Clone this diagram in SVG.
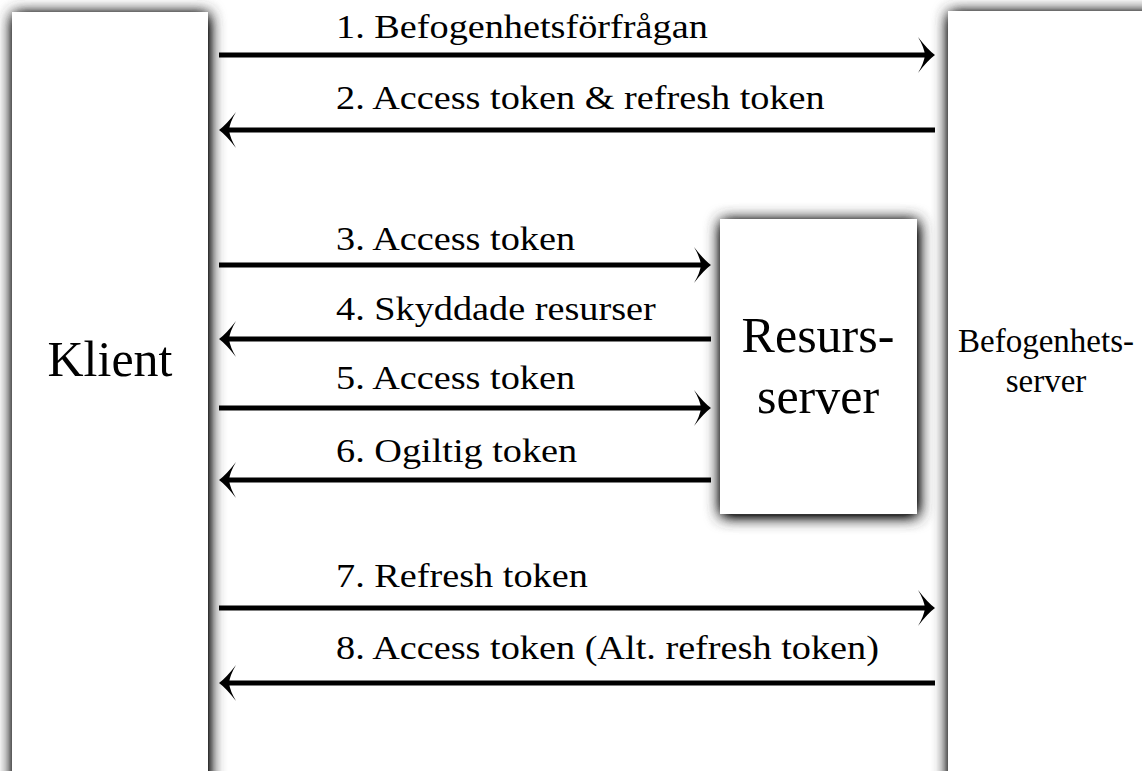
<svg xmlns="http://www.w3.org/2000/svg" xmlns:xlink="http://www.w3.org/1999/xlink" width="1142" height="771" viewBox="0 0 1142 771">
<style>
.box{fill:#fff;filter:url(#sh)}
text{font-family:'Liberation Serif','DejaVu Serif',serif;fill:#000}
.lbl{font-size:33px}
.big{font-size:50px;text-anchor:middle}
.mid{font-size:33px;text-anchor:middle}
.ln{stroke:#000;stroke-width:5;fill:none}
</style>
<defs>
<filter id="sh" x="-30%" y="-30%" width="160%" height="160%">
<feGaussianBlur in="SourceAlpha" stdDeviation="8" result="b"/>
<feOffset in="b" dx="1" dy="2" result="o"/>
<feComponentTransfer in="o" result="c"><feFuncA type="linear" slope="1.9"/></feComponentTransfer>
<feFlood flood-color="#333"/>
<feComposite in2="c" operator="in" result="s"/>
<feMerge><feMergeNode in="s"/><feMergeNode in="SourceGraphic"/></feMerge>
</filter>
<path id="head" d="M0,0 Q-7,-5 -17,-18 Q-11,-8 -10,0 Q-11,8 -17,18 Q-7,5 0,0 Z" fill="#000"/>
</defs>
<rect width="1142" height="771" fill="#fff"/>
<g id="klient">
<rect class="box" x="12" y="12" width="196" height="790"/>
<text class="big" x="110" y="376">Klient</text>
</g>
<g id="befogenhetsserver">
<rect class="box" x="948" y="11" width="220" height="790"/>
<text class="mid" x="1046" y="352">Befogenhets-</text>
<text class="mid" x="1046" y="392">server</text>
</g>
<g id="resursserver">
<rect class="box" x="720" y="219" width="197" height="295"/>
<text class="big" x="818" y="352">Resurs-</text>
<text class="big" x="818" y="413">server</text>
</g>
<g id="connectors">
<line class="ln" x1="219" y1="55" x2="927" y2="55"/>
<use xlink:href="#head" transform="translate(935,55)"/>
<line class="ln" x1="227" y1="130" x2="935" y2="130"/>
<use xlink:href="#head" transform="translate(219,130) scale(-1,1)"/>
<line class="ln" x1="219" y1="265" x2="703" y2="265"/>
<use xlink:href="#head" transform="translate(711,265)"/>
<line class="ln" x1="227" y1="339" x2="711" y2="339"/>
<use xlink:href="#head" transform="translate(219,339) scale(-1,1)"/>
<line class="ln" x1="219" y1="408" x2="703" y2="408"/>
<use xlink:href="#head" transform="translate(711,408)"/>
<line class="ln" x1="227" y1="480" x2="711" y2="480"/>
<use xlink:href="#head" transform="translate(219,480) scale(-1,1)"/>
<line class="ln" x1="219" y1="608" x2="927" y2="608"/>
<use xlink:href="#head" transform="translate(935,608)"/>
<line class="ln" x1="227" y1="683" x2="935" y2="683"/>
<use xlink:href="#head" transform="translate(219,683) scale(-1,1)"/>
<g transform="translate(336,0) scale(1.16,1)">
<text class="lbl" x="0" y="38">1. Befogenhetsförfrågan</text>
<text class="lbl" x="0" y="109">2. Access token &amp; refresh token</text>
<text class="lbl" x="0" y="250">3. Access token</text>
<text class="lbl" x="0" y="320">4. Skyddade resurser</text>
<text class="lbl" x="0" y="389">5. Access token</text>
<text class="lbl" x="0" y="462">6. Ogiltig token</text>
<text class="lbl" x="0" y="587">7. Refresh token</text>
<text class="lbl" x="0" y="659">8. Access token (Alt. refresh token)</text>
</g>
</g>
</svg>
